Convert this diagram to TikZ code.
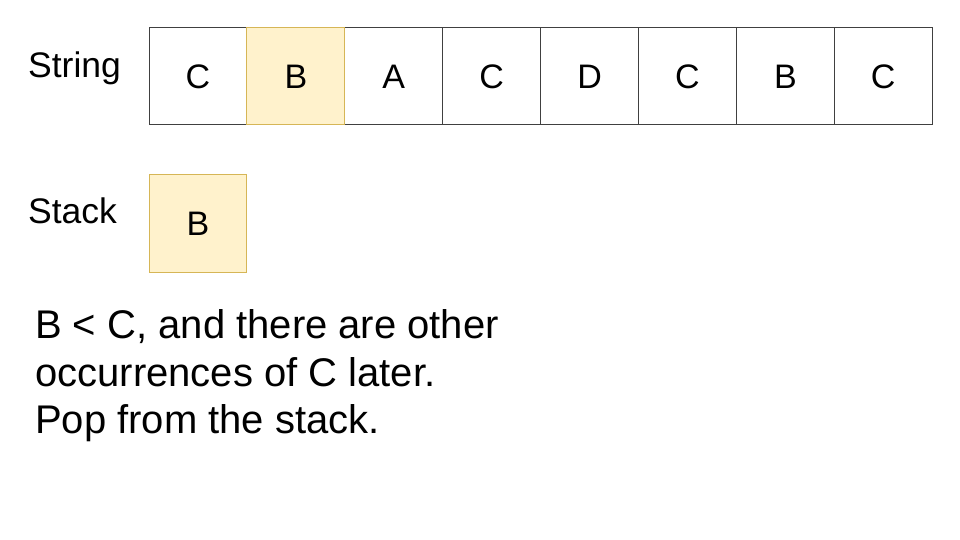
\documentclass[tikz,border=0pt]{standalone}
\usepackage{fontspec}
\setmainfont{Liberation Sans}
\definecolor{hlfill}{HTML}{FFF2CC}
\definecolor{hldraw}{HTML}{D6B656}

\begin{document}
\begin{tikzpicture}[x=1pt, y=-1pt,
    cell/.style={draw=black!75, line width=1pt, fill=white,
    minimum width=97.9pt, minimum height=97pt,
    inner sep=0pt, rectangle,
    font=\fontsize{34}{40}\selectfont},
    hl/.style={cell, draw=hldraw, fill=hlfill},
    lbl/.style={anchor=base west, inner sep=0pt,
    font=\fontsize{35.5}{40}\selectfont},
    txt/.style={anchor=base west, inner sep=0pt,
    font=\fontsize{40}{48}\selectfont}]
    \useasboundingbox (0,0) rectangle (960,540);
    % string cells
    \foreach \ch [count=\i] in {C,B,A,C,D,C,B,C}
       \node[cell](s\i) at (149+97.9*\i-48.95,76.5) {\ch};
    \node[hl](s2) at (149+97.9*2-48.95,76.5) {B};
    % stack
    \node[hl](top) at (197.95,223.5) {B};
    % labels
    \node[lbl](strlbl) at (28,78) {String};
    \node[lbl](stklbl) at (28,223) {Stack};
    \node[txt](line1) at (35,338) {B < C, and there are other};
    \node[txt](line2) at (35,386) {occurrences of C later.};
    \node[txt](line3) at (35,433) {Pop from the stack.};
\end{tikzpicture}
\end{document}
